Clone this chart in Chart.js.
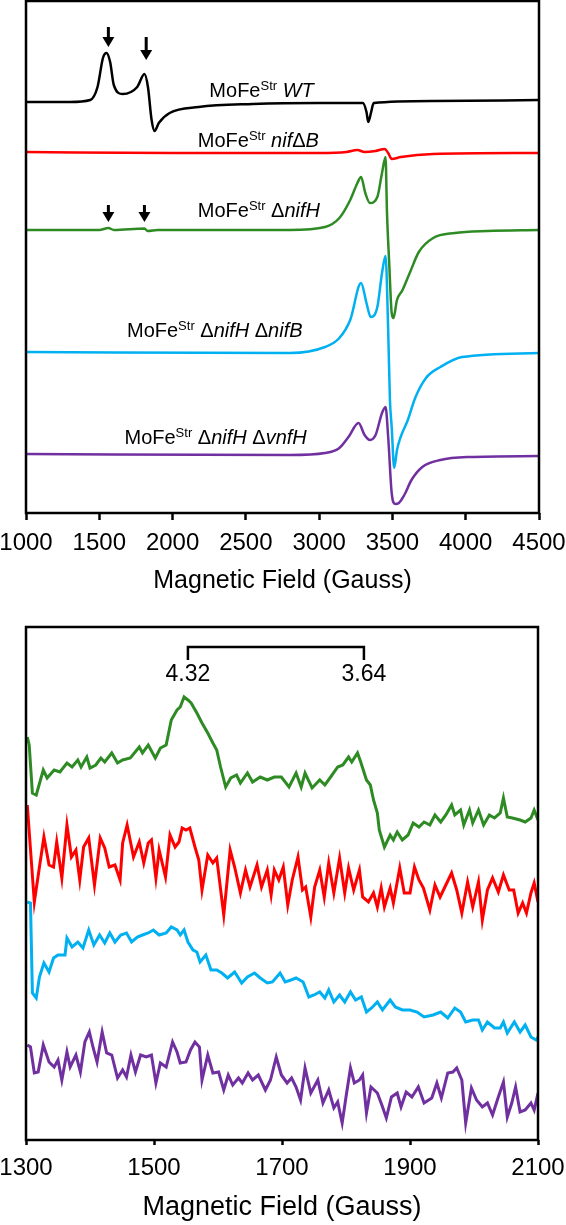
<!DOCTYPE html>
<html lang="en">
<head>
  <meta charset="UTF-8">
  <title>EPR spectra of MoFe protein variants</title>
  <script src="https://cdn.jsdelivr.net/npm/chart.js"></script>
  <style>
    body { margin: 0; background: #fff; }
    .panel { position: absolute; left: 0; width: 566px; }
    #top { top: 0; height: 600px; }
    #bottom { top: 600px; height: 625px; }
  </style>
</head>
<body>
  <div class="panel" id="top"><canvas id="fullSpectrum"></canvas></div>
  <div class="panel" id="bottom"><canvas id="zoomSpectrum"></canvas></div>

  <script>
    var FONT = 'Arial, "Liberation Sans", sans-serif';

    // ---- top panel: full field sweep, [field (G), signal] with a vertical offset per trace
    var fullColors = ['#000000', '#ff0000', '#2e8b24', '#00b0f0', '#7030a0'];
    var fullOffsets = [411, 360, 283, 161, 59];

    var wtSignal = [[1000,0],[1300,0],[1438,2],[1488,15],[1525,44],[1549,49],[1574,40],[1599,17],[1660,8],[1759,15],[1808,28],[1832,15],[1857,-18],[1877,-29],[1906,-21],[1980,-11],[2178,-5],[2547,-2],[3000,-1],[3298,-1],[3323,-10],[3335,-20],[3355,-10],[3372,-1],[3777,1],[4500,2]];
    var nifBSignal = [[1000,1],[2000,0],[3000,0],[3187,1],[3261,3],[3310,1],[3385,2],[3446,4],[3471,0],[3495,-6],[3557,-4],[3778,-1],[4500,0]];
    var nifHSignal = [[1000,0],[1500,0],[1562,2],[1600,0],[1808,1.5],[1830,-1],[1900,0],[2800,0],[3040,3],[3138,12],[3212,30],[3261,47],[3286,53],[3315,37],[3347,27],[3397,33],[3429,57],[3453,73],[3463,17],[3478,-33],[3495,-83],[3507,-88],[3531,-70],[3569,-60],[3618,-43],[3680,-22],[3778,-8],[3926,-3],[4148,-1],[4500,0]];
    var nifHnifBSignal = [[1000,0],[2800,-1],[3040,5],[3138,14],[3212,32],[3286,69],[3323,49],[3352,35],[3397,45],[3429,79],[3453,96],[3471,22],[3483,-48],[3495,-75],[3512,-116],[3531,-98],[3556,-85],[3605,-68],[3655,-46],[3729,-26],[3827,-15],[3975,-5],[4500,-1]];
    var nifHvnfHSignal = [[1000,0],[2800,-1],[3040,1],[3138,6],[3200,17],[3269,31],[3310,19],[3347,14],[3385,19],[3429,41],[3453,47],[3471,17],[3495,-39],[3519,-50],[3544,-49],[3581,-41],[3630,-26],[3704,-13],[3827,-6],[4025,-3],[4500,-2]];

    var fullSeries = [wtSignal, nifBSignal, nifHSignal, nifHnifBSignal, nifHvnfHSignal];

    // trace labels (rich text parts), anchored at left edge / vertical centre
    var fullLabels = [
      { x: 2251, y: 423, parts: [{t:'MoFe'},{t:'Str',sup:true},{t:' '},{t:'WT',i:true}] },
      { x: 2172, y: 373, parts: [{t:'MoFe'},{t:'Str',sup:true},{t:' '},{t:'nif',i:true},{t:'\u0394'},{t:'B',i:true}] },
      { x: 2172, y: 303, parts: [{t:'MoFe'},{t:'Str',sup:true},{t:' \u0394'},{t:'nifH',i:true}] },
      { x: 1689, y: 183, parts: [{t:'MoFe'},{t:'Str',sup:true},{t:' \u0394'},{t:'nifH',i:true},{t:' \u0394'},{t:'nifB',i:true}] },
      { x: 1672, y: 76,  parts: [{t:'MoFe'},{t:'Str',sup:true},{t:' \u0394'},{t:'nifH',i:true},{t:' \u0394'},{t:'vnfH',i:true}] }
    ];
    var fullArrows = [
      { x: 1562, top: 486, tip: 466 },
      { x: 1820, top: 476, tip: 453 },
      { x: 1562, top: 308, tip: 291 },
      { x: 1808, top: 308, tip: 291 }
    ];

    // ---- bottom panel: low-field zoom, [field (G), signal]
    var zoomColors = ['#2e8b24', '#ff0000', '#00b0f0', '#7030a0'];
    var zoomNifH = [[1302,403],[1305,395],[1310,347],[1316,345],[1327,370],[1333,362],[1344,370],[1353,368],[1364,377],[1372,373],[1381,380],[1386,373],[1395,383],[1400,372],[1409,375],[1417,382],[1423,378],[1434,387],[1443,377],[1451,380],[1463,382],[1477,393],[1482,387],[1491,395],[1502,382],[1510,392],[1519,395],[1527,420],[1536,430],[1541,433],[1547,443],[1553,440],[1558,437],[1567,427],[1575,417],[1584,407],[1592,397],[1598,390],[1604,373],[1612,353],[1620,362],[1629,365],[1635,357],[1646,367],[1654,358],[1666,363],[1677,360],[1688,363],[1699,363],[1711,353],[1722,367],[1730,353],[1736,367],[1747,352],[1759,360],[1767,355],[1776,363],[1787,373],[1795,375],[1804,383],[1809,378],[1818,387],[1823,378],[1832,360],[1838,355],[1843,340],[1849,327],[1852,310],[1860,293],[1869,305],[1874,300],[1880,308],[1888,300],[1897,305],[1905,317],[1914,313],[1922,318],[1931,315],[1939,325],[1948,318],[1956,325],[1965,335],[1970,325],[1979,330],[1984,315],[1993,330],[1998,317],[2007,330],[2015,315],[2024,325],[2032,322],[2041,327],[2046,342],[2052,323],[2060,322],[2072,320],[2080,318],[2089,322],[2094,330],[2100,320]];
    var zoomNifB = [[1302,335],[1313,238],[1321,273],[1328,303],[1336,275],[1343,273],[1348,298],[1356,262],[1364,315],[1371,283],[1378,290],[1384,260],[1390,293],[1398,302],[1407,255],[1416,302],[1423,292],[1430,273],[1439,275],[1447,260],[1451,297],[1458,315],[1468,283],[1477,298],[1484,277],[1491,297],[1496,300],[1503,262],[1508,290],[1518,263],[1525,305],[1533,293],[1539,298],[1544,312],[1550,310],[1556,312],[1564,293],[1570,280],[1575,250],[1584,285],[1592,277],[1598,282],[1609,225],[1619,290],[1626,273],[1635,247],[1643,270],[1650,253],[1661,275],[1668,253],[1677,270],[1683,245],[1688,270],[1695,260],[1702,273],[1709,235],[1716,260],[1725,283],[1732,250],[1737,253],[1745,223],[1751,253],[1759,270],[1766,243],[1773,277],[1781,247],[1790,282],[1798,247],[1804,272],[1812,250],[1821,270],[1826,243],[1835,238],[1843,247],[1849,233],[1855,252],[1860,233],[1869,252],[1874,237],[1884,272],[1891,247],[1900,247],[1907,273],[1914,260],[1921,252],[1931,230],[1939,255],[1947,243],[1956,255],[1965,267],[1973,250],[1981,227],[1990,258],[1998,233],[2007,258],[2013,220],[2021,250],[2029,262],[2038,248],[2046,265],[2055,250],[2062,250],[2069,227],[2076,237],[2082,227],[2089,247],[2094,257],[2100,238]];
    var zoomNifHnifB = [[1302,238],[1307,237],[1310,147],[1316,142],[1321,163],[1328,177],[1336,168],[1343,182],[1350,185],[1361,185],[1364,202],[1372,193],[1381,198],[1389,192],[1398,210],[1406,195],[1415,205],[1423,197],[1431,207],[1439,198],[1448,205],[1457,207],[1465,198],[1474,203],[1482,205],[1491,207],[1499,210],[1508,205],[1519,207],[1527,213],[1536,210],[1541,205],[1547,210],[1553,198],[1561,190],[1567,188],[1572,178],[1581,185],[1589,170],[1598,170],[1606,167],[1615,162],[1626,168],[1637,157],[1646,163],[1657,167],[1666,162],[1677,157],[1685,158],[1697,167],[1705,158],[1714,160],[1722,162],[1733,158],[1742,143],[1750,145],[1759,148],[1767,142],[1773,150],[1781,138],[1790,145],[1798,138],[1807,148],[1815,140],[1824,143],[1832,128],[1840,132],[1849,138],[1857,130],[1869,140],[1877,133],[1888,130],[1900,130],[1911,128],[1922,123],[1936,125],[1948,128],[1959,122],[1970,132],[1979,128],[1987,118],[1998,120],[2007,120],[2013,110],[2021,118],[2032,112],[2041,112],[2046,118],[2052,107],[2063,118],[2072,108],[2080,115],[2089,103],[2097,100],[2100,103]];
    var zoomNifHvnfH = [[1302,95],[1307,93],[1313,67],[1319,68],[1327,95],[1336,78],[1344,73],[1350,80],[1356,60],[1364,88],[1369,73],[1378,85],[1385,68],[1392,98],[1399,108],[1405,92],[1411,78],[1419,108],[1426,87],[1434,85],[1443,62],[1451,70],[1457,63],[1464,85],[1471,68],[1479,85],[1488,83],[1496,85],[1503,57],[1510,77],[1519,73],[1529,98],[1536,88],[1541,77],[1550,78],[1557,90],[1564,98],[1571,93],[1575,60],[1584,85],[1592,67],[1601,68],[1609,50],[1616,65],[1623,55],[1632,62],[1638,57],[1647,67],[1654,60],[1663,65],[1674,50],[1682,60],[1691,83],[1699,65],[1708,57],[1715,62],[1722,53],[1729,40],[1736,72],[1745,47],[1756,60],[1764,37],[1773,50],[1781,32],[1787,38],[1794,17],[1800,43],[1807,72],[1813,57],[1821,60],[1826,65],[1832,27],[1839,53],[1849,47],[1856,35],[1863,22],[1871,43],[1880,47],[1886,33],[1894,48],[1903,43],[1913,53],[1922,37],[1934,42],[1942,57],[1949,42],[1959,67],[1967,68],[1973,72],[1981,60],[1987,17],[1996,52],[2004,40],[2013,33],[2021,37],[2029,25],[2038,43],[2046,58],[2052,23],[2059,37],[2065,53],[2072,28],[2080,30],[2089,37],[2094,30],[2100,47]];

    var zoomSeries = [zoomNifH, zoomNifB, zoomNifHnifB, zoomNifHvnfH];

    // g-value bracket over the low-field signals
    var gMarks = [{ x: 1553, label: '4.32' }, { x: 1828, label: '3.64' }];

    // ---------- drawing helpers
    function drawRich(ctx, parts, x, y, size) {
      parts.forEach(function(p) {
        var fs = p.sup ? Math.round(size * 0.65) : size;
        ctx.font = (p.i ? 'italic ' : '') + fs + 'px ' + FONT;
        ctx.fillText(p.t, x, p.sup ? y - size * 0.36 : y);
        x += ctx.measureText(p.t).width;
      });
    }

    var framePlugin = {
      id: 'frame',
      afterDatasetsDraw: function(chart) {
        var a = chart.chartArea, ctx = chart.ctx;
        ctx.save();
        ctx.strokeStyle = '#000';
        ctx.lineWidth = 2.5;
        ctx.strokeRect(a.left, a.top, a.right - a.left, a.bottom - a.top);
        ctx.restore();
      }
    };

    var fullNotes = {
      id: 'fullNotes',
      afterDatasetsDraw: function(chart) {
        var ctx = chart.ctx, xs = chart.scales.x, ys = chart.scales.y;
        ctx.save();
        ctx.fillStyle = '#000';
        ctx.strokeStyle = '#000';
        ctx.textBaseline = 'alphabetic';
        fullLabels.forEach(function(l) {
          drawRich(ctx, l.parts, xs.getPixelForValue(l.x), ys.getPixelForValue(l.y) + 7, 20);
        });
        fullArrows.forEach(function(a) {
          var x = xs.getPixelForValue(a.x), y0 = ys.getPixelForValue(a.top), y1 = ys.getPixelForValue(a.tip);
          ctx.lineWidth = 3;
          ctx.beginPath();
          ctx.moveTo(x, y0);
          ctx.lineTo(x, y1 - 8);
          ctx.stroke();
          ctx.beginPath();
          ctx.moveTo(x - 6, y1 - 10);
          ctx.lineTo(x + 6, y1 - 10);
          ctx.lineTo(x, y1);
          ctx.closePath();
          ctx.fill();
        });
        ctx.restore();
      }
    };

    var zoomNotes = {
      id: 'zoomNotes',
      afterDatasetsDraw: function(chart) {
        var ctx = chart.ctx, xs = chart.scales.x, ys = chart.scales.y;
        var xa = xs.getPixelForValue(gMarks[0].x), xb = xs.getPixelForValue(gMarks[1].x);
        var yTop = ys.getPixelForValue(493), yEnd = ys.getPixelForValue(480), yText = ys.getPixelForValue(465);
        ctx.save();
        ctx.strokeStyle = '#000';
        ctx.lineWidth = 2.5;
        ctx.beginPath();
        ctx.moveTo(xa, yEnd);
        ctx.lineTo(xa, yTop);
        ctx.lineTo(xb, yTop);
        ctx.lineTo(xb, yEnd);
        ctx.stroke();
        ctx.fillStyle = '#000';
        ctx.font = '23px ' + FONT;
        ctx.textAlign = 'center';
        ctx.textBaseline = 'middle';
        gMarks.forEach(function(m) {
          ctx.fillText(m.label, xs.getPixelForValue(m.x), yText);
        });
        ctx.restore();
      }
    };

    function toPoints(series, offset) {
      return series.map(function(p) { return { x: p[0], y: p[1] + offset }; });
    }

    // keep the plot box where the figure has it, even though edge labels overhang
    function fixHeight(h) {
      return function(s) { s.height = h; s.paddingLeft = 0; s.paddingRight = 0; };
    }

    // ---------- top chart
    var fullChart = new Chart(document.getElementById('fullSpectrum'), {
      type: 'line',
      data: {
        datasets: fullSeries.map(function(s, i) {
          return {
            data: toPoints(s, fullOffsets[i]),
            borderColor: fullColors[i],
            borderWidth: 2.5,
            pointRadius: 0,
            cubicInterpolationMode: 'monotone',
            fill: false
          };
        })
      },
      options: {
        responsive: true,
        maintainAspectRatio: false,
        animation: false,
        layout: { padding: { left: 26, right: 27, top: 1, bottom: 0 } },
        plugins: { legend: { display: false }, tooltip: { enabled: false } },
        scales: {
          x: {
            type: 'linear', min: 1000, max: 4500,
            ticks: { stepSize: 500, color: '#000', padding: 9, maxRotation: 0,
                     font: { size: 24, family: FONT },
                     callback: function(v) { return String(v); } },
            grid: { drawOnChartArea: false, drawTicks: true, tickLength: 7, tickWidth: 2.5, tickColor: '#000' },
            border: { display: false },
            title: { display: true, text: 'Magnetic Field (Gauss)', color: '#000',
                     font: { size: 25, family: FONT }, padding: { top: 0, bottom: 4 } },
            afterFit: fixHeight(87)
          },
          y: { display: false, min: 0, max: 512 }
        }
      },
      plugins: [framePlugin, fullNotes]
    });

    // ---------- bottom chart
    var zoomChart = new Chart(document.getElementById('zoomSpectrum'), {
      type: 'line',
      data: {
        datasets: zoomSeries.map(function(s, i) {
          return {
            data: toPoints(s, 0),
            borderColor: zoomColors[i],
            borderWidth: 3,
            pointRadius: 0,
            tension: 0,
            fill: false
          };
        })
      },
      options: {
        responsive: true,
        maintainAspectRatio: false,
        animation: false,
        layout: { padding: { left: 26, right: 28, top: 27, bottom: 0 } },
        plugins: { legend: { display: false }, tooltip: { enabled: false } },
        scales: {
          x: {
            type: 'linear', min: 1300, max: 2100,
            ticks: { stepSize: 200, color: '#000', padding: 9, maxRotation: 0,
                     font: { size: 24, family: FONT },
                     callback: function(v) { return String(v); } },
            grid: { drawOnChartArea: false, drawTicks: true, tickLength: 5, tickWidth: 2.5, tickColor: '#000' },
            border: { display: false },
            title: { display: true, text: 'Magnetic Field (Gauss)', color: '#000',
                     font: { size: 27, family: FONT }, padding: { top: 0, bottom: 1 } },
            afterFit: fixHeight(85)
          },
          y: { display: false, min: 0, max: 513 }
        }
      },
      plugins: [framePlugin, zoomNotes]
    });
  </script>
</body>
</html>
